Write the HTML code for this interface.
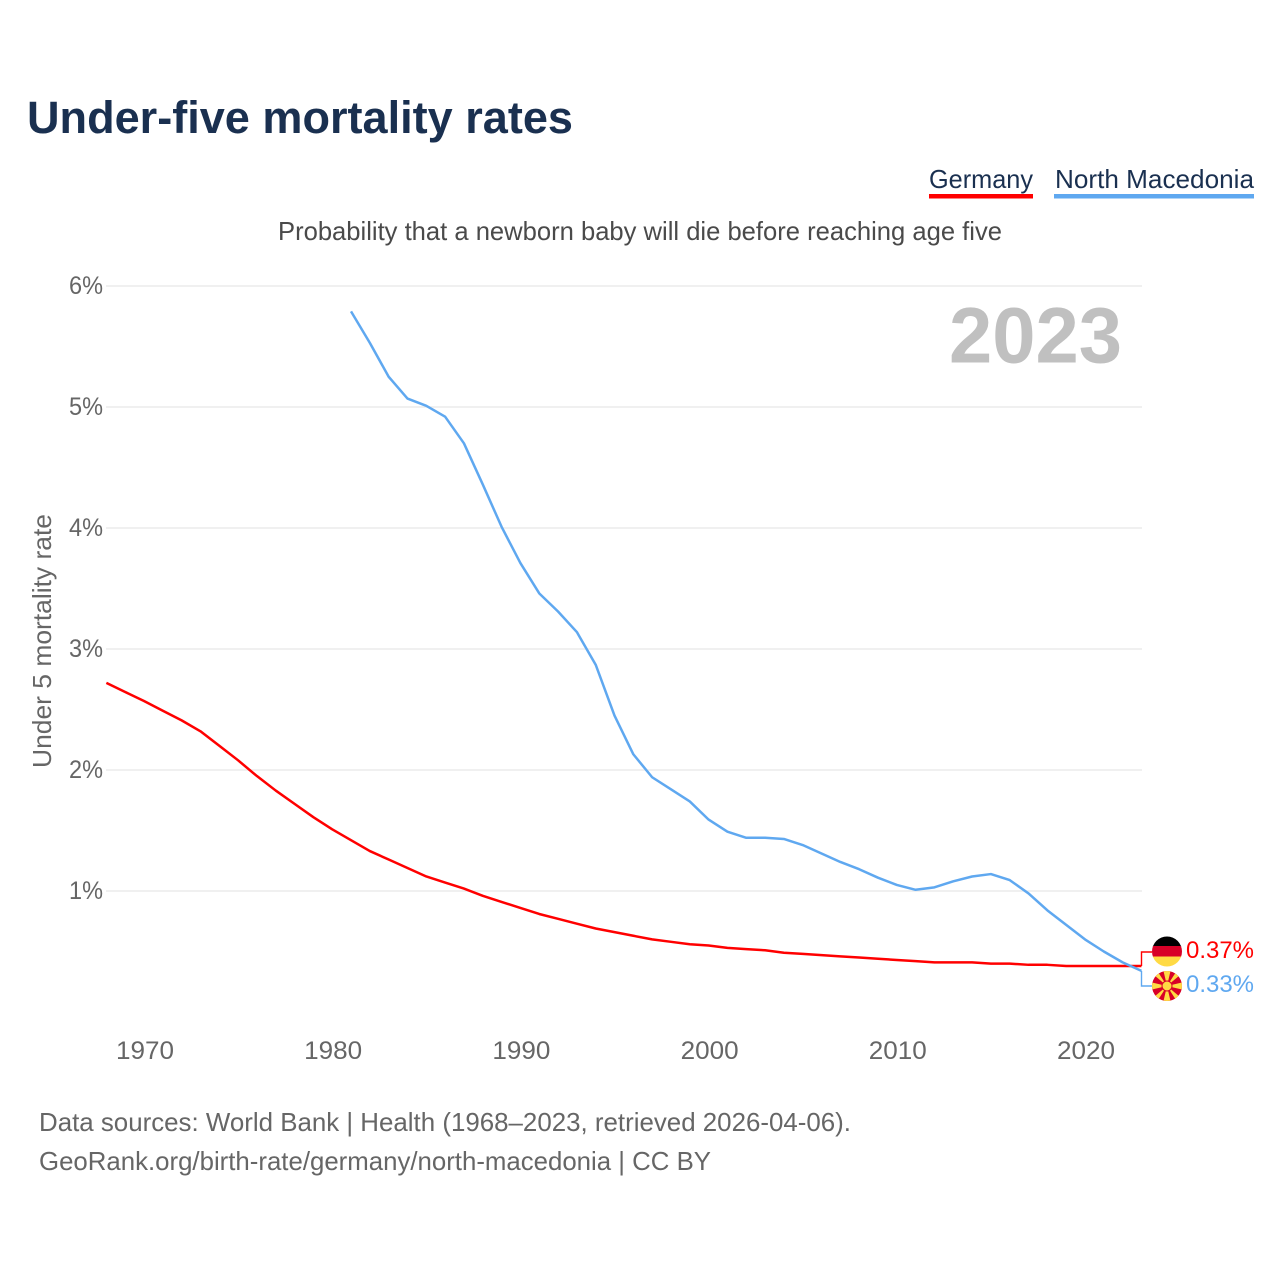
<!DOCTYPE html>
<html lang="en">
<head>
<meta charset="utf-8">
<title>Under-five mortality rates</title>
<style>
html,body{margin:0;padding:0;background:#fff}
svg{display:block}
text{font-family:"Liberation Sans",sans-serif}
</style>
</head>
<body>
<svg id="chart" width="1280" height="1280" viewBox="0 0 1280 1280" xmlns="http://www.w3.org/2000/svg">
  <defs>
    <clipPath id="clip-de"><circle cx="1167" cy="951.500" r="15"/></clipPath>
    <clipPath id="clip-mk"><circle cx="1167" cy="986" r="15"/></clipPath>
  </defs>
  <rect width="1280" height="1280" fill="#fff"/>
  <text x="27" y="133" font-size="45" font-weight="700" fill="#1a3050" textLength="546" lengthAdjust="spacingAndGlyphs">Under-five mortality rates</text>
  <g>
    <g>
      <text x="929" y="188" font-size="26" fill="#1a3050" textLength="104" lengthAdjust="spacingAndGlyphs">Germany</text>
      <rect x="929" y="194" width="104" height="4.500" fill="#ff0000"/>
    </g>
    <g>
      <text x="1055" y="188" font-size="26" fill="#1a3050" textLength="199" lengthAdjust="spacingAndGlyphs">North Macedonia</text>
      <rect x="1054" y="194" width="200" height="4.500" fill="#5fa8f0"/>
    </g>
  </g>
  <text x="278" y="240" font-size="26" fill="#4a4a4a" textLength="724" lengthAdjust="spacingAndGlyphs">Probability that a newborn baby will die before reaching age five</text>
  <text transform="translate(51,768) rotate(-90)" font-size="26" fill="#666" textLength="254" lengthAdjust="spacingAndGlyphs">Under 5 mortality rate</text>
  <g id="grid"></g>
  <text x="949" y="362.500" font-size="79" font-weight="700" fill="#c0c0c0" textLength="173" lengthAdjust="spacingAndGlyphs">2023</text>
  <g id="y-ticks"></g>
  <g id="x-ticks"></g>
  <g id="series"></g>
  <path d="M1141.500 966V952H1152" fill="none" stroke="#ff0000" stroke-width="1.400"/>
  <path d="M1141.500 971V986H1152" fill="none" stroke="#5fa8f0" stroke-width="1.400"/>
  <g clip-path="url(#clip-de)">
    <rect x="1152" y="936" width="30" height="11" fill="#000"/>
    <rect x="1152" y="946" width="30" height="11" fill="#d80027"/>
    <rect x="1152" y="956.500" width="30" height="11" fill="#ffda44"/>
  </g>
  <g clip-path="url(#clip-mk)">
    <rect x="1152" y="971" width="30" height="30" fill="#d80027"/>
    <path d="M1167 986L1163.500 971H1170.500ZM1167 986L1163.500 1001H1170.500ZM1167 986L1152 982.500V989.500ZM1167 986L1182 982.500V989.500ZM1167 986L1154 975L1158 972ZM1167 986L1180 975L1176 972ZM1167 986L1154 997L1158 1000ZM1167 986L1180 997L1176 1000Z" fill="#ffda44"/>
    <circle cx="1167" cy="986" r="5" fill="#ffda44" stroke="#d80027" stroke-width="1"/>
  </g>
  <text x="1186" y="958" font-size="24" fill="#ff0000" textLength="68" lengthAdjust="spacingAndGlyphs">0.37%</text>
  <text x="1186" y="992" font-size="24" fill="#5fa8f0" textLength="68" lengthAdjust="spacingAndGlyphs">0.33%</text>
  <text x="39" y="1131" font-size="26" fill="#666" textLength="812" lengthAdjust="spacingAndGlyphs">Data sources: World Bank | Health (1968–2023, retrieved 2026-04-06).</text>
  <text x="39" y="1170" font-size="26" fill="#666" textLength="672" lengthAdjust="spacingAndGlyphs">GeoRank.org/birth-rate/germany/north-macedonia | CC BY</text>
</svg>
<script>
const yTickValues = [1, 2, 3, 4, 5, 6];
const yTickLabels = ["1%", "2%", "3%", "4%", "5%", "6%"];
const xTickYears = [1970, 1980, 1990, 2000, 2010, 2020];
const xTickLabels = ["1970", "1980", "1990", "2000", "2010", "2020"];
const germanyStartYear = 1968;
const germanyValues = [2.72, 2.645, 2.57, 2.49, 2.41, 2.32, 2.20, 2.08, 1.95, 1.83, 1.72, 1.61, 1.51, 1.42, 1.33, 1.26, 1.19, 1.12, 1.07, 1.02, 0.96, 0.91, 0.86, 0.81, 0.77, 0.73, 0.69, 0.66, 0.63, 0.60, 0.58, 0.56, 0.55, 0.53, 0.52, 0.51, 0.49, 0.48, 0.47, 0.46, 0.45, 0.44, 0.43, 0.42, 0.41, 0.41, 0.41, 0.40, 0.40, 0.39, 0.39, 0.38, 0.38, 0.38, 0.38, 0.38];
const macedoniaStartYear = 1981;
const macedoniaValues = [5.79, 5.53, 5.25, 5.07, 5.01, 4.92, 4.70, 4.36, 4.01, 3.71, 3.46, 3.31, 3.14, 2.87, 2.45, 2.13, 1.94, 1.84, 1.74, 1.59, 1.49, 1.44, 1.44, 1.43, 1.38, 1.31, 1.24, 1.18, 1.11, 1.05, 1.01, 1.03, 1.08, 1.12, 1.14, 1.09, 0.98, 0.84, 0.72, 0.60, 0.50, 0.41, 0.34];

const NS = "http://www.w3.org/2000/svg";
const xScale = year => 144 + (year - 1970) * 18.82;
const yScale = value => 1012 - value * 121;

const gridGroup = document.getElementById("grid");
const yTickGroup = document.getElementById("y-ticks");
yTickValues.forEach((value, i) => {
  const line = document.createElementNS(NS, "line");
  
  
  line.setAttribute("x1", 106);
  line.setAttribute("x2", 1142);
  line.setAttribute("y1", yScale(value));
  line.setAttribute("y2", yScale(value));
  line.setAttribute("stroke", "#ececec");
  line.setAttribute("stroke-width", 1.5);
  gridGroup.appendChild(line);

  const label = document.createElementNS(NS, "text");
  
  
  label.setAttribute("x", 69);
  label.setAttribute("y", yScale(value) + 8);
  label.setAttribute("font-size", 25);
  label.setAttribute("fill", "#666");
  label.setAttribute("textLength", 34);
  label.setAttribute("lengthAdjust", "spacingAndGlyphs");
  label.textContent = yTickLabels[i];
  yTickGroup.appendChild(label);
});

const xTickGroup = document.getElementById("x-ticks");
xTickYears.forEach((year, i) => {
  const label = document.createElementNS(NS, "text");
  
  
  label.setAttribute("x", xScale(year) - 28);
  label.setAttribute("y", 1059);
  label.setAttribute("font-size", 25);
  label.setAttribute("fill", "#666");
  label.setAttribute("textLength", 58);
  label.setAttribute("lengthAdjust", "spacingAndGlyphs");
  label.textContent = xTickLabels[i];
  xTickGroup.appendChild(label);
});

function linePath(startYear, values) {
  return values.map((value, i) =>
    (i ? "L" : "M") + xScale(startYear + i).toFixed(2) + " " + yScale(value).toFixed(2)
  ).join("");
}

const seriesGroup = document.getElementById("series");

const germanyLine = document.createElementNS(NS, "path");


germanyLine.setAttribute("d", linePath(germanyStartYear, germanyValues));
germanyLine.setAttribute("fill", "none");
germanyLine.setAttribute("stroke", "#ff0000");
germanyLine.setAttribute("stroke-width", 2.5);
germanyLine.setAttribute("stroke-linejoin", "round");
seriesGroup.appendChild(germanyLine);

const macedoniaLine = document.createElementNS(NS, "path");


macedoniaLine.setAttribute("d", linePath(macedoniaStartYear, macedoniaValues));
macedoniaLine.setAttribute("fill", "none");
macedoniaLine.setAttribute("stroke", "#5fa8f0");
macedoniaLine.setAttribute("stroke-width", 2.5);
macedoniaLine.setAttribute("stroke-linejoin", "round");
seriesGroup.appendChild(macedoniaLine);
</script>
</body>
</html>
